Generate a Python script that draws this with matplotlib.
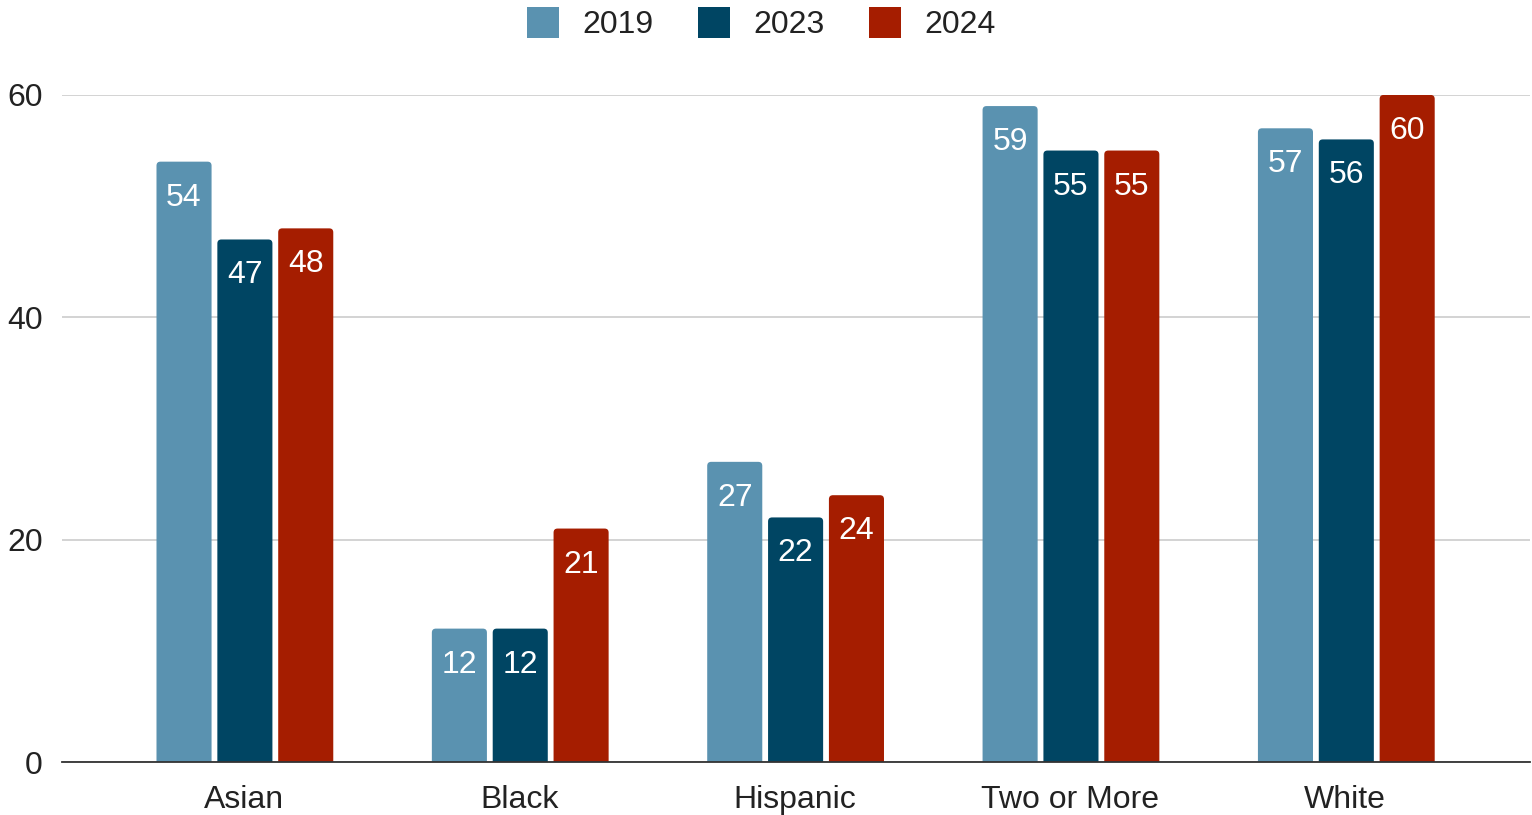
import matplotlib
matplotlib.use("Agg")
import matplotlib.pyplot as plt
from matplotlib.patches import FancyBboxPatch, Patch
import numpy as np

categories = ["Asian", "Black", "Hispanic", "Two or More", "White"]
series_names = ["2019", "2023", "2024"]
values_2019 = [54, 12, 27, 59, 57]
values_2023 = [47, 12, 22, 55, 56]
values_2024 = [48, 21, 24, 55, 60]
colors = ["#5A92B0", "#004563", "#A51D00"]
yticks = [0, 20, 40, 60]

plt.rcParams["font.family"] = ["Liberation Sans", "DejaVu Sans"]
FS = 23

fig = plt.figure(figsize=(15.32, 8.15), dpi=100)
ax = fig.add_axes([0.0405, 0.065, 0.958, 0.8185])
ax.set_xlim(-0.66, 4.67)
ax.set_ylim(0, 60)

# pixel scale of each data unit, used to keep corner rounding circular
fig.canvas.draw()
bbox = ax.get_window_extent()
px_x = bbox.width / (4.67 + 0.66)
px_y = bbox.height / 60.0
radius_px = 4.0

x = np.arange(len(categories))
width = 0.2
offset = 0.221
all_values = [values_2019, values_2023, values_2024]
for i, (name, vals, col) in enumerate(zip(series_names, all_values, colors)):
    xs = x + 0.004 + (i - 1) * offset
    bars = ax.bar(xs, vals, width=width, color=col, zorder=3)
    for b, v in zip(bars, vals):
        b.set_visible(False)
        ext = 0.6  # extend below the baseline so only the top corners show rounding
        patch = FancyBboxPatch((b.get_x(), -ext), b.get_width(), v + ext,
                               boxstyle=f"round,pad=0,rounding_size={radius_px / px_x}",
                               mutation_aspect=px_x / px_y,
                               facecolor=col, edgecolor="none", zorder=3, clip_on=True)
        ax.add_patch(patch)
        ax.annotate(str(v), (b.get_x() + b.get_width() / 2, v),
                    xytext=(0, -36), textcoords="offset pixels",
                    ha="center", va="center", color="white", fontsize=FS, zorder=4)

ax.set_yticks(yticks)
ax.set_yticklabels([str(t) for t in yticks], fontsize=FS, color="#222222")
ax.set_xticks(x)
ax.set_xticklabels(categories, fontsize=FS, color="#222222")
ax.tick_params(axis="both", length=0)
ax.tick_params(axis="y", pad=14)
ax.tick_params(axis="x", pad=16.5)
ax.grid(axis="y", color="#cccccc", linewidth=1.2, zorder=0)
for s in ["top", "right", "left"]:
    ax.spines[s].set_visible(False)
ax.spines["bottom"].set_color("#333333")
ax.spines["bottom"].set_linewidth(1.3)
ax.spines["bottom"].set_zorder(5)

handles = [Patch(facecolor=c, edgecolor="none", label=n) for n, c in zip(series_names, colors)]
leg = fig.legend(handles=handles, loc="center", bbox_to_anchor=(0.497, 0.971), ncol=3,
                 frameon=False, fontsize=FS, handlelength=1.0, handleheight=1.1,
                 columnspacing=1.4, handletextpad=0.72)
for t in leg.get_texts():
    t.set_color("#222222")

fig.savefig("out.png", dpi=100)
